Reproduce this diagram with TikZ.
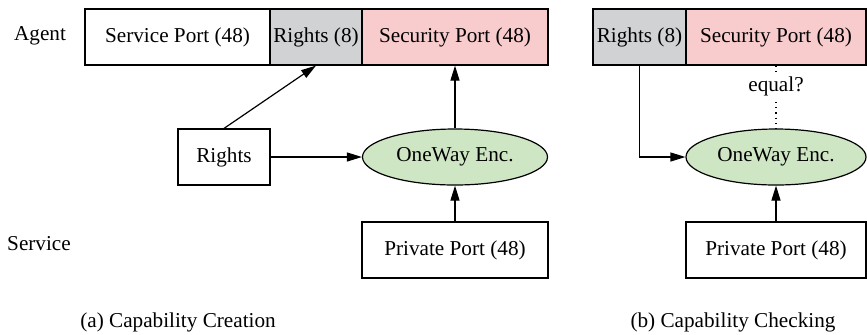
\documentclass[tikz,border=0pt]{standalone}
\usepackage{fontspec}
\setmainfont{Liberation Serif}
\usetikzlibrary{arrows.meta,shapes.geometric}
\definecolor{secpink}{RGB}{248,203,205}
\definecolor{rightsgray}{RGB}{209,210,212}
\definecolor{encgreen}{RGB}{206,230,196}

\begin{document}
\begin{tikzpicture}[>={Triangle[length=7.5pt,width=4.5pt]}, x=0.5pt, y=-0.5pt, line width=0.6pt,
    font=\fontsize{10.6}{12.7}\selectfont,
    field/.style={rectangle, draw, minimum height=28pt, inner sep=0pt},
    encnode/.style={ellipse, draw, fill=encgreen, minimum width=92.5pt, minimum height=28pt, inner sep=0pt}]
    \useasboundingbox (0,0) rectangle (867,334);

    % Row labels
    \node (agent) at (40,36) {Agent};
    \node (service) at (39,244) {Service};

    % (a) Capability Creation
    \node (svc) at (177.5,37) [field, minimum width=92.5pt] {Service Port (48)};
    \node (rts8) at (316,37) [field, fill=rightsgray, minimum width=46pt] {Rights (8)};
    \node (sec) at (455,37) [field, fill=secpink, minimum width=93pt] {Security Port (48)};
    \node (rts) at (224,157) [field, minimum width=46pt] {Rights};
    \node (enc) at (455,157) [encnode] {OneWay Enc.};
    \node (prv) at (455,250) [field, minimum width=93pt] {Private Port (48)};

    \draw[->] (rts.north) -- (rts8.south);
    \draw[->] (rts.east) -- (enc.west);
    \draw[->] (enc.north) -- (sec.south);
    \draw[->] (prv.north) -- (enc.south);

    \node (capa) at (178,322) {(a) Capability Creation};

    % (b) Capability Checking
    \node (rts8b) at (639.5,37) [field, fill=rightsgray, minimum width=46.5pt] {Rights (8)};
    \node (secb) at (776,37) [field, fill=secpink, minimum width=90pt] {Security Port (48)};
    \node (encb) at (776,157) [encnode, minimum width=90pt] {OneWay Enc.};
    \node (prvb) at (776,250) [field, minimum width=90pt] {Private Port (48)};

    \draw[->] (rts8b.south) |- (encb.west);
    \draw[->] (prvb.north) -- (encb.south);
    \draw[dotted] (secb.south) -- (encb.north) node[pos=0.33, fill=white, inner sep=1pt] {equal?};

    \node (capb) at (733,322) {(b) Capability Checking};
\end{tikzpicture}
\end{document}
